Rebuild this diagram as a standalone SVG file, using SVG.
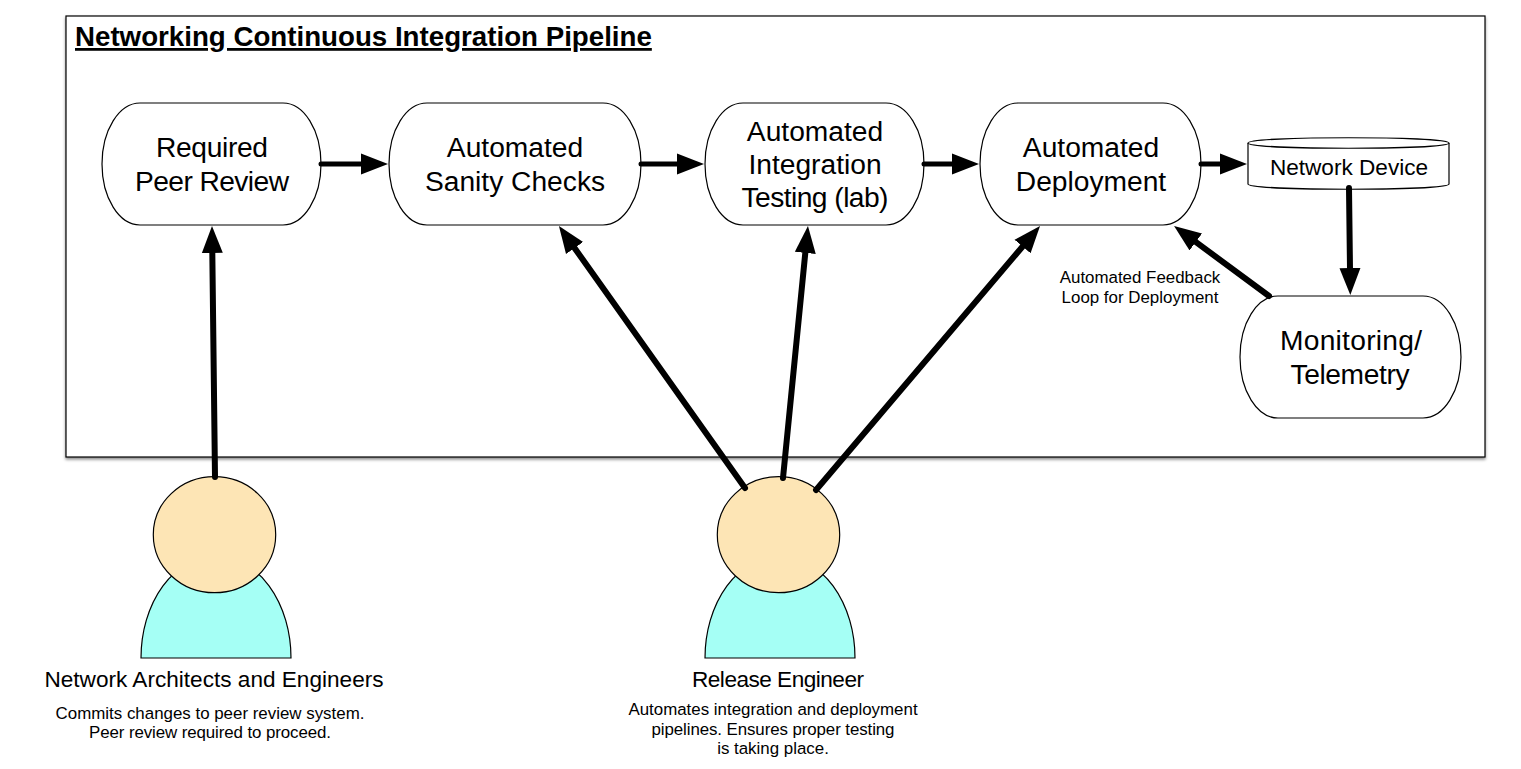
<svg xmlns="http://www.w3.org/2000/svg" width="1521" height="769" viewBox="0 0 1521 769">
<defs>
<filter id="sh" x="-2%" y="-2%" width="104%" height="104%"><feDropShadow dx="0" dy="2" stdDeviation="1.5" flood-color="#000" flood-opacity="0.45"/></filter>
<marker id="ah" markerUnits="userSpaceOnUse" markerWidth="30" markerHeight="24" refX="1" refY="12" orient="auto"><path d="M0 1.5 L27 12 L0 22.5 Z" fill="#000"/></marker>
</defs>
<style>
text{font-family:"Liberation Sans",Arial,sans-serif;fill:#000;text-anchor:middle}
.n{fill:#fff;stroke:#000;stroke-width:1.2}
.l{font-size:28.2px}
.s{font-size:16.9px}
.m{font-size:22.6px}
.c{fill:none;stroke:#000;stroke-width:6;stroke-linecap:round;marker-end:url(#ah)}
.h{stroke-width:5}
.head{fill:#fde5b5;stroke:#000;stroke-width:1.2}
.body{fill:#a5fff5;stroke:#000;stroke-width:1.2}
</style>
<rect width="1521" height="769" fill="#fff"/>
<g id="pipeline">
<rect x="66" y="16" width="1419" height="441" fill="#fff" stroke="#000" stroke-width="1.2" filter="url(#sh)"/>
<text x="75" y="46" style="font-size:27.7px;font-weight:bold;text-anchor:start;text-decoration:underline">Networking Continuous Integration Pipeline</text>
</g>
<g id="person-engineers">
<path class="body" d="M141 658 A75 102 0 0 1 291 658 Z"/>
<ellipse class="head" cx="214.5" cy="534.7" rx="61.2" ry="58"/>
<text x="214" y="687" class="m">Network Architects and Engineers</text>
<text x="210" y="719" class="s">Commits changes to peer review system.</text>
<text x="210" y="738" class="s" textLength="242">Peer review required to proceed.</text>
</g>
<g id="person-release">
<path class="body" d="M705 658 A75 102 0 0 1 855 658 Z"/>
<ellipse class="head" cx="778.5" cy="534.7" rx="61.2" ry="58"/>
<text x="778" y="687" class="m" textLength="172">Release Engineer</text>
<text x="773" y="715" class="s">Automates integration and deployment</text>
<text x="773" y="735" class="s" textLength="243">pipelines. Ensures proper testing</text>
<text x="773" y="754" class="s">is taking place.</text>
</g>
<g id="node-review"><rect class="n" x="102" y="103" width="219" height="122" rx="38" ry="61"/><text x="212" y="157" class="l" textLength="112">Required</text><text x="212" y="191" class="l" textLength="154">Peer Review</text></g>
<g id="node-sanity"><rect class="n" x="389" y="103" width="252" height="122" rx="38" ry="61"/><text x="515" y="157" class="l">Automated</text><text x="515" y="191" class="l">Sanity Checks</text></g>
<g id="node-integration"><rect class="n" x="705" y="103" width="219" height="122" rx="38" ry="61"/><text x="815" y="141" class="l">Automated</text><text x="815" y="174" class="l">Integration</text><text x="815" y="207" class="l" textLength="147">Testing (lab)</text></g>
<g id="node-deploy"><rect class="n" x="980" y="103" width="221" height="122" rx="38" ry="61"/><text x="1091" y="157" class="l">Automated</text><text x="1091" y="191" class="l">Deployment</text></g>
<g id="node-device"><path class="n" d="M1248 143 C1248 136 1449 136 1449 143 L1449 184 C1449 191 1248 191 1248 184 Z"/><path class="n" d="M1248 143 C1248 150 1449 150 1449 143"/><text x="1349" y="175" class="m">Network Device</text></g>
<g id="node-monitoring"><rect class="n" x="1240" y="296" width="221" height="122" rx="38" ry="61"/><text x="1351" y="350" class="l" textLength="142">Monitoring/</text><text x="1350" y="384" class="l" textLength="119">Telemetry</text></g>
<g id="connectors">
<line class="c h" x1="321" y1="164" x2="362" y2="164"/>
<line class="c h" x1="641" y1="164" x2="678" y2="164"/>
<line class="c h" x1="924" y1="164" x2="953" y2="164"/>
<line class="c h" x1="1201" y1="164" x2="1221" y2="164"/>
<line class="c" x1="1349" y1="188" x2="1350" y2="269"/>
<line class="c" x1="1269" y1="296" x2="1195" y2="241.4"/>
<line class="c" x1="215" y1="477" x2="212.3" y2="252"/>
<line class="c" x1="745" y1="488" x2="574" y2="247.2"/>
<line class="c" x1="783" y1="478" x2="805.4" y2="251.9"/>
<line class="c" x1="816" y1="490" x2="1023.2" y2="245.8"/>
</g>
<text x="1140" y="283" class="s">Automated Feedback</text>
<text x="1140" y="303" class="s">Loop for Deployment</text>
</svg>
